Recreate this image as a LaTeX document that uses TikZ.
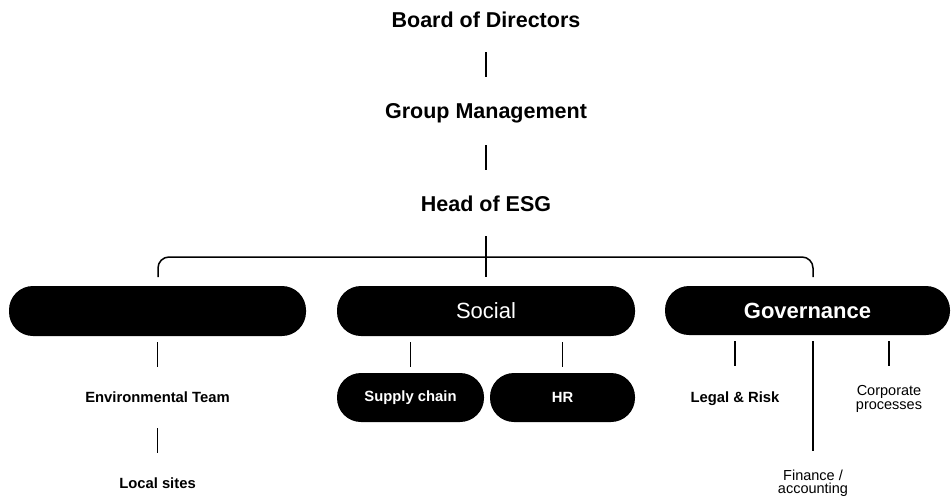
\documentclass[tikz,border=0pt]{standalone}
\usepackage{fontspec}
\setmainfont{Liberation Sans}
\begin{document}
\begin{tikzpicture}[x=1pt,y=-1pt,
  conn/.style={line width=1.5pt, draw=black},
  title/.style={inner sep=0, anchor=base, font=\fontsize{21.5}{24}\selectfont\bfseries},
  lbl/.style={inner sep=0, anchor=base, font=\fontsize{14.8}{17}\selectfont\bfseries},
  small/.style={inner sep=0, align=center, font=\fontsize{14.5}{13.5}\selectfont},
  pill/.style={fill=black, rounded corners=24pt, minimum height=50pt, inner sep=0, text=white},
  subpill/.style={fill=black, rounded corners=24pt, minimum height=49pt, inner sep=0, text=white, font=\fontsize{14.8}{17}\selectfont\bfseries}
]
\useasboundingbox (0,0) rectangle (951,499);

% top chain
\node[title] (board) at (486,27) {Board of Directors};
\node[title] (gm) at (486,118) {Group Management};
\node[title] (esg) at (486,211) {Head of ESG};
\coordinate (bt) at (486,277);
\coordinate (bm) at (486,257);
\coordinate (bl) at (158,277);
\coordinate (br) at (813,277);

\draw[conn, shorten <=25pt, shorten >=41pt] (board.base) -- (gm.base);
\draw[conn, shorten <=27pt, shorten >=41pt] (gm.base) -- (esg.base);
\draw[conn, shorten <=25pt] (esg.base) -- (bt);
\draw[conn, rounded corners=11pt] (bl) |- (bm) -| (br);

% pillar boxes
\node[pill, minimum width=297pt] (env) at (157.5,311) {};
\node[pill, minimum width=298pt, font=\fontsize{22}{24}\selectfont] (social) at (486,311) {Social};
\node[pill, minimum width=285pt, minimum height=49pt, font=\fontsize{22}{24}\selectfont\bfseries] (gov) at (807.5,310.5) {Governance};

% environmental branch
\node[lbl] (envteam) at (157.5,402) {Environmental Team};
\node[lbl] (local) at (157.5,488) {Local sites};
\draw[conn, shorten <=6pt, shorten >=35pt] (env.south) -- (envteam.base);
\draw[conn, shorten <=26pt, shorten >=35pt] (envteam.base) -- (local.base);

% social branch
\node[subpill, minimum width=147pt] (supply) at (410.5,397.5) {\raisebox{-1pt}{Supply chain}};
\node[subpill, minimum width=145pt] (hr) at (562.5,397.5) {HR};
\draw[conn, shorten <=6pt, shorten >=6pt] (supply.north |- social.south) -- (supply.north);
\draw[conn, shorten <=6pt, shorten >=6pt] (hr.north |- social.south) -- (hr.north);

% governance branch
\node[lbl] (legal) at (735,402) {Legal \& Risk};
\node[small] (corp) at (889,399) {Corporate\\processes};
\node[small] (fin) at (813,483) {Finance /\\accounting};
\draw[conn, shorten <=6pt, shorten >=36pt] (legal.base |- gov.south) -- (legal.base);
\draw[conn, shorten <=6pt, shorten >=18pt] (fin.north |- gov.south) -- (fin.north);
\draw[conn, shorten <=6pt, shorten >=19pt] (corp.north |- gov.south) -- (corp.north);
\end{tikzpicture}
\end{document}
